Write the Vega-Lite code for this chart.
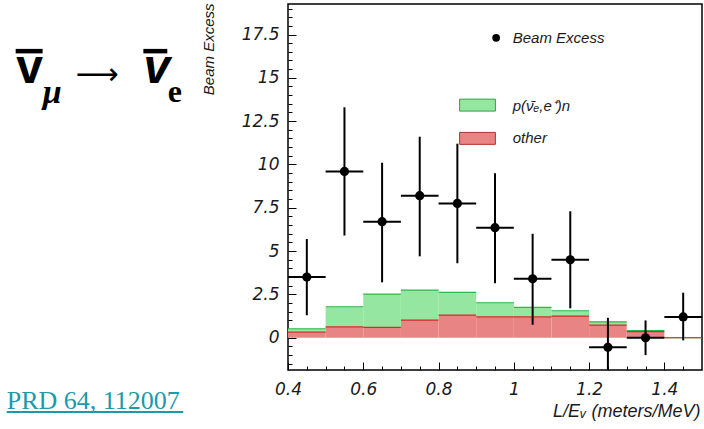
{
  "$schema": "https://vega.github.io/schema/vega-lite/v6.json",
  "width": 414,
  "height": 366,
  "autosize": {"type": "none"},
  "padding": {"left": 288, "top": 4, "right": 2, "bottom": 59},
  "background": "white",
  "config": {"view": {"stroke": "black", "strokeWidth": 1.5}},
  "datasets": {
    "hist": [
      {"lo": 0.4, "hi": 0.5, "other": 0.32, "total": 0.52},
      {"lo": 0.5, "hi": 0.6, "other": 0.63, "total": 1.79},
      {"lo": 0.6, "hi": 0.7, "other": 0.6, "total": 2.52},
      {"lo": 0.7, "hi": 0.8, "other": 1.02, "total": 2.75},
      {"lo": 0.8, "hi": 0.9, "other": 1.31, "total": 2.62},
      {"lo": 0.9, "hi": 1.0, "other": 1.21, "total": 2.02},
      {"lo": 1.0, "hi": 1.1, "other": 1.21, "total": 1.75},
      {"lo": 1.1, "hi": 1.2, "other": 1.25, "total": 1.56},
      {"lo": 1.2, "hi": 1.3, "other": 0.73, "total": 0.92},
      {"lo": 1.3, "hi": 1.4, "other": 0.35, "total": 0.42},
      {"lo": 1.4, "hi": 1.5, "other": 0.0, "total": 0.0}
    ],
    "pts": [
      {"x": 0.45, "xlo": 0.4, "xhi": 0.5, "y": 3.5, "ylo": 1.3, "yhi": 5.7},
      {"x": 0.55, "xlo": 0.5, "xhi": 0.6, "y": 9.6, "ylo": 5.9, "yhi": 13.3},
      {"x": 0.65, "xlo": 0.6, "xhi": 0.7, "y": 6.7, "ylo": 3.2, "yhi": 10.1},
      {"x": 0.75, "xlo": 0.7, "xhi": 0.8, "y": 8.2, "ylo": 4.7, "yhi": 11.6},
      {"x": 0.85, "xlo": 0.8, "xhi": 0.9, "y": 7.75, "ylo": 4.3, "yhi": 11.2},
      {"x": 0.95, "xlo": 0.9, "xhi": 1.0, "y": 6.35, "ylo": 3.15, "yhi": 9.5},
      {"x": 1.05, "xlo": 1.0, "xhi": 1.1, "y": 3.4, "ylo": 0.75, "yhi": 6.0},
      {"x": 1.15, "xlo": 1.1, "xhi": 1.2, "y": 4.5, "ylo": 1.7, "yhi": 7.3},
      {"x": 1.25, "xlo": 1.2, "xhi": 1.3, "y": -0.55, "ylo": -1.85, "yhi": 1.15},
      {"x": 1.35, "xlo": 1.3, "xhi": 1.4, "y": 0.0, "ylo": -1.0, "yhi": 1.0},
      {"x": 1.45, "xlo": 1.4, "xhi": 1.5, "y": 1.2, "ylo": -0.15, "yhi": 2.6}
    ]
  },
  "layer": [
    {
      "data": {"name": "hist"},
      "mark": {"type": "rect", "fill": "#e98484"},
      "encoding": {
        "x": {
          "field": "lo", "type": "quantitative",
          "scale": {"domain": [0.4, 1.5], "nice": false, "zero": false},
          "axis": {
            "values": [0.4, 0.45, 0.5, 0.55, 0.6, 0.65, 0.7, 0.75, 0.8, 0.85, 0.9, 0.95, 1, 1.05, 1.1, 1.15, 1.2, 1.25, 1.3, 1.35, 1.4, 1.45],
            "tickCount": 500,
            "format": "~g",
            "labelExpr": "abs(datum.value*5 - round(datum.value*5)) < 0.001 ? datum.label : ''",
            "tickSize": {"condition": {"test": "abs(datum.value*5 - round(datum.value*5)) < 0.001", "value": -8}, "value": -4},
            "tickColor": "black", "tickWidth": 1,
            "domain": false, "grid": false,
            "labelPadding": 19,
            "labelFont": "DejaVu Sans", "labelFontStyle": "italic", "labelFontSize": 17, "labelColor": "#1a1a1a",
            "labelOverlap": false, "labelFlush": false, "labelBound": false,
            "title": "L/Eᵥ (meters/MeV)",
            "titleX": 412, "titleY": 46, "titleAlign": "right", "titleBaseline": "alphabetic",
            "titleFont": "Liberation Sans", "titleFontStyle": "italic", "titleFontWeight": "normal", "titleFontSize": 18, "titleColor": "#1a1a1a"
          }
        },
        "x2": {"field": "hi"},
        "y": {
          "field": "other", "type": "quantitative",
          "scale": {"domain": [-1.86, 19.26], "nice": false, "zero": false},
          "axis": {
            "values": [-1.5, -1, -0.5, 0, 0.5, 1, 1.5, 2, 2.5, 3, 3.5, 4, 4.5, 5, 5.5, 6, 6.5, 7, 7.5, 8, 8.5, 9, 9.5, 10, 10.5, 11, 11.5, 12, 12.5, 13, 13.5, 14, 14.5, 15, 15.5, 16, 16.5, 17, 17.5, 18, 18.5, 19],
            "tickCount": 500,
            "format": "~g",
            "labelExpr": "abs(datum.value/2.5 - round(datum.value/2.5)) < 0.001 && datum.value >= 0 ? datum.label : ''",
            "tickSize": {"condition": {"test": "abs(datum.value/2.5 - round(datum.value/2.5)) < 0.001", "value": -8}, "value": -4},
            "tickColor": "black", "tickWidth": 1,
            "domain": false, "grid": false,
            "labelPadding": 17,
            "labelFont": "DejaVu Sans", "labelFontStyle": "italic", "labelFontSize": 17, "labelColor": "#1a1a1a",
            "labelOverlap": false, "labelFlush": false, "labelBound": false,
            "title": "Beam Excess",
            "titleX": -80, "titleY": -1, "titleAngle": -90, "titleAlign": "right", "titleBaseline": "middle",
            "titleFont": "Liberation Sans", "titleFontStyle": "italic", "titleFontWeight": "normal", "titleFontSize": 15, "titleColor": "#1a1a1a"
          }
        },
        "y2": {"datum": 0}
      }
    },
    {
      "data": {"name": "hist"},
      "mark": {"type": "rect", "fill": "#95e6a0"},
      "encoding": {
        "x": {"field": "lo", "type": "quantitative"},
        "x2": {"field": "hi"},
        "y": {"field": "total", "type": "quantitative"},
        "y2": {"field": "other"}
      }
    },
    {
      "data": {"name": "hist"},
      "mark": {"type": "rule", "stroke": "#2fb64a", "strokeWidth": 1.2},
      "encoding": {
        "x": {"field": "lo", "type": "quantitative"},
        "x2": {"field": "hi"},
        "y": {"field": "total", "type": "quantitative"}
      }
    },
    {
      "data": {"name": "hist"},
      "mark": {"type": "rule", "stroke": "#d42a2a", "strokeWidth": 1.2},
      "encoding": {
        "x": {"field": "lo", "type": "quantitative"},
        "x2": {"field": "hi"},
        "y": {"field": "other", "type": "quantitative"}
      }
    },
    {
      "data": {"name": "pts"},
      "mark": {"type": "rule", "stroke": "black", "strokeWidth": 2},
      "encoding": {
        "x": {"field": "x", "type": "quantitative"},
        "y": {"field": "ylo", "type": "quantitative"},
        "y2": {"field": "yhi"}
      }
    },
    {
      "data": {"name": "pts"},
      "mark": {"type": "rule", "stroke": "black", "strokeWidth": 2},
      "encoding": {
        "x": {"field": "xlo", "type": "quantitative"},
        "x2": {"field": "xhi"},
        "y": {"field": "y", "type": "quantitative"}
      }
    },
    {
      "data": {"name": "pts"},
      "mark": {"type": "point", "filled": true, "fill": "black", "opacity": 1, "size": 85, "shape": "circle"},
      "encoding": {
        "x": {"field": "x", "type": "quantitative"},
        "y": {"field": "y", "type": "quantitative"}
      }
    },
    {
      "data": {"values": [{}]},
      "mark": {"type": "point", "filled": true, "fill": "black", "opacity": 1, "size": 60, "shape": "circle"},
      "encoding": {"x": {"datum": 0.953, "type": "quantitative"}, "y": {"datum": 17.31, "type": "quantitative"}}
    },
    {
      "data": {"values": [{}]},
      "mark": {"type": "text", "text": "Beam Excess", "align": "left", "baseline": "middle", "font": "Liberation Sans", "fontStyle": "italic", "fontSize": 15, "fill": "#1a1a1a"},
      "encoding": {"x": {"datum": 0.997, "type": "quantitative"}, "y": {"datum": 17.31, "type": "quantitative"}}
    },
    {
      "data": {"values": [{}]},
      "mark": {"type": "rect", "fill": "#95e6a0", "stroke": "#2fa044", "strokeWidth": 1},
      "encoding": {"x": {"datum": 0.856, "type": "quantitative"}, "x2": {"datum": 0.951}, "y": {"datum": 13.77, "type": "quantitative"}, "y2": {"datum": 13.08}}
    },
    {
      "data": {"values": [{}]},
      "mark": {"type": "text", "text": "p(ν̄ₑ,e⁺)n", "align": "left", "baseline": "middle", "font": "Liberation Sans", "fontStyle": "italic", "fontSize": 15, "fill": "#1a1a1a"},
      "encoding": {"x": {"datum": 0.997, "type": "quantitative"}, "y": {"datum": 13.4, "type": "quantitative"}}
    },
    {
      "data": {"values": [{}]},
      "mark": {"type": "rect", "fill": "#e98484", "stroke": "#b03030", "strokeWidth": 1},
      "encoding": {"x": {"datum": 0.856, "type": "quantitative"}, "x2": {"datum": 0.951}, "y": {"datum": 11.85, "type": "quantitative"}, "y2": {"datum": 11.16}}
    },
    {
      "data": {"values": [{}]},
      "mark": {"type": "text", "text": "other", "align": "left", "baseline": "middle", "font": "Liberation Sans", "fontStyle": "italic", "fontSize": 15, "fill": "#1a1a1a"},
      "encoding": {"x": {"datum": 0.997, "type": "quantitative"}, "y": {"datum": 11.5, "type": "quantitative"}}
    },
    {
      "data": {"values": [{}]},
      "mark": {"type": "rule", "stroke": "black", "strokeWidth": 4.5},
      "encoding": {"x": {"datum": -0.3236, "type": "quantitative"}, "x2": {"datum": -0.252}, "y": {"datum": 16.54, "type": "quantitative"}}
    },
    {
      "data": {"values": [{}]},
      "mark": {"type": "text", "text": "v", "align": "center", "baseline": "alphabetic", "font": "Liberation Sans", "fontWeight": "bold", "fontSize": 48, "fill": "black"},
      "encoding": {"x": {"datum": -0.2865, "type": "quantitative"}, "y": {"datum": 14.7, "type": "quantitative"}}
    },
    {
      "data": {"values": [{}]},
      "mark": {"type": "text", "text": "μ", "align": "center", "baseline": "alphabetic", "font": "Liberation Serif", "fontStyle": "italic", "fontWeight": "bold", "fontSize": 34, "fill": "black"},
      "encoding": {"x": {"datum": -0.2268, "type": "quantitative"}, "y": {"datum": 13.54, "type": "quantitative"}}
    },
    {
      "data": {"values": [{}]},
      "mark": {"type": "text", "text": "⟶", "align": "center", "baseline": "middle", "font": "DejaVu Sans", "fontSize": 30, "fill": "black"},
      "encoding": {"x": {"datum": -0.1076, "type": "quantitative"}, "y": {"datum": 15.16, "type": "quantitative"}}
    },
    {
      "data": {"values": [{}]},
      "mark": {"type": "rule", "stroke": "black", "strokeWidth": 4.5},
      "encoding": {"x": {"datum": 0.0157, "type": "quantitative"}, "x2": {"datum": 0.0793}, "y": {"datum": 16.54, "type": "quantitative"}}
    },
    {
      "data": {"values": [{}]},
      "mark": {"type": "text", "text": "v", "align": "center", "baseline": "alphabetic", "font": "Liberation Sans", "fontWeight": "bold", "fontStyle": "italic", "fontSize": 48, "fill": "black"},
      "encoding": {"x": {"datum": 0.0515, "type": "quantitative"}, "y": {"datum": 14.7, "type": "quantitative"}}
    },
    {
      "data": {"values": [{}]},
      "mark": {"type": "text", "text": "e", "align": "center", "baseline": "alphabetic", "font": "Liberation Serif", "fontWeight": "bold", "fontSize": 32, "fill": "black"},
      "encoding": {"x": {"datum": 0.0992, "type": "quantitative"}, "y": {"datum": 13.6, "type": "quantitative"}}
    },
    {
      "data": {"values": [{}]},
      "mark": {"type": "text", "text": "PRD 64, 112007", "align": "left", "baseline": "alphabetic", "font": "Liberation Serif", "fontSize": 26, "fill": "#1b9aa8"},
      "encoding": {"x": {"datum": -0.3474, "type": "quantitative"}, "y": {"datum": -4.114, "type": "quantitative"}}
    },
    {
      "data": {"values": [{}]},
      "mark": {"type": "rule", "stroke": "#1b9aa8", "strokeWidth": 2},
      "encoding": {"x": {"datum": -0.3474, "type": "quantitative"}, "x2": {"datum": 0.1217}, "y": {"datum": -4.287, "type": "quantitative"}}
    }
  ]
}
